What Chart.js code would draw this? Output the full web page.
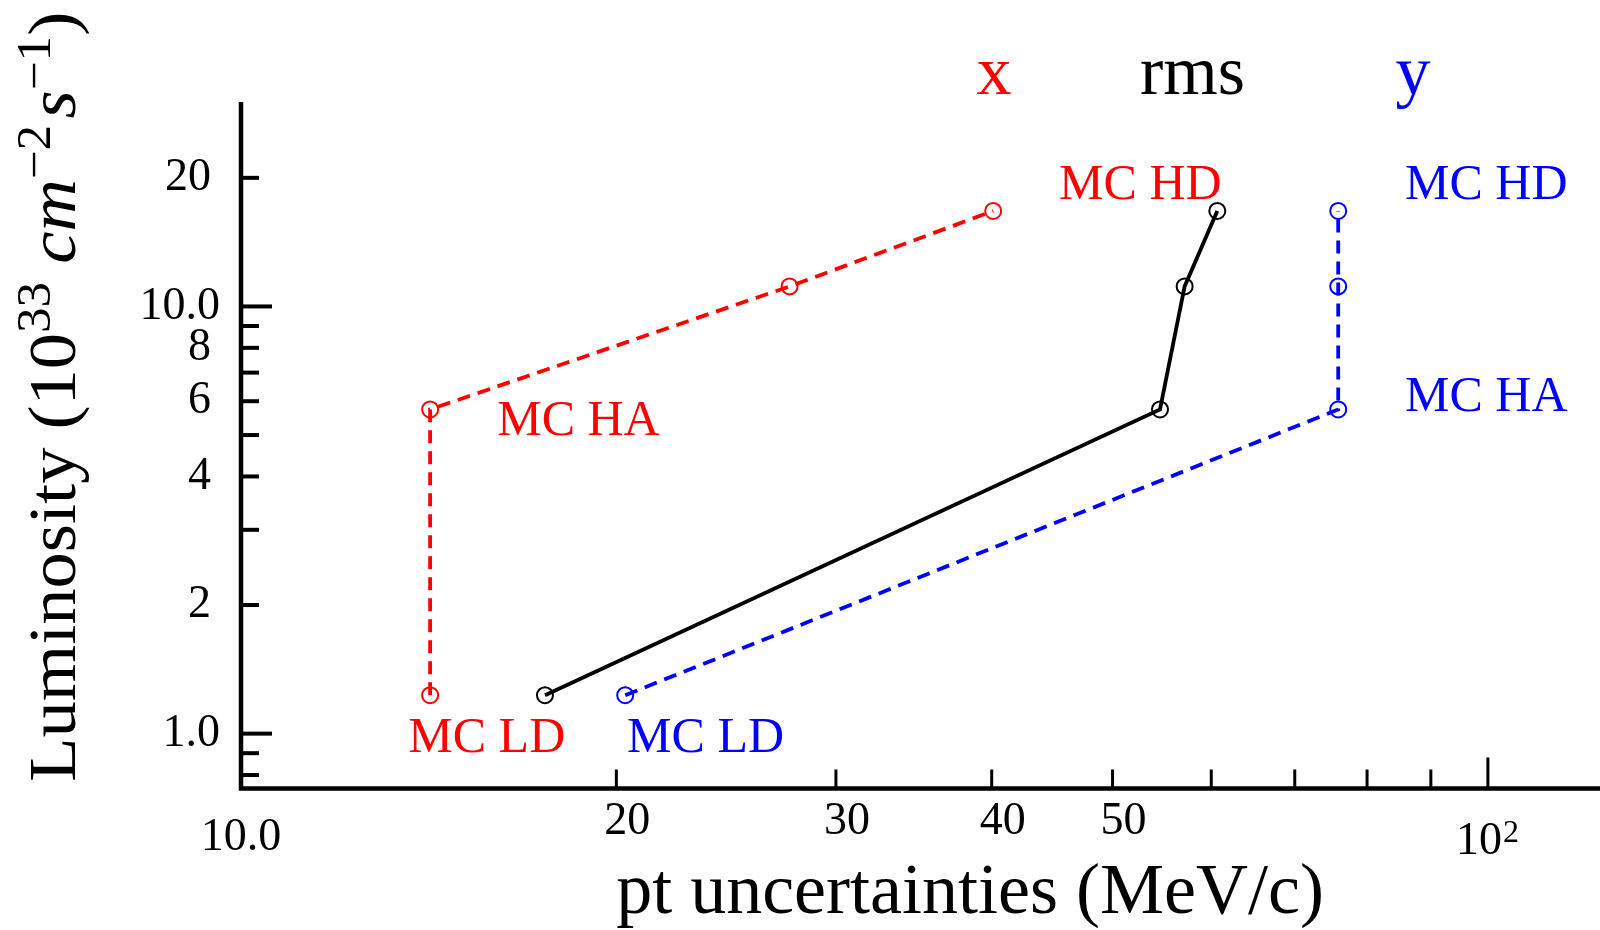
<!DOCTYPE html>
<html>
<head>
<meta charset="utf-8">
<script src="https://cdn.jsdelivr.net/npm/chart.js@4.4.1/dist/chart.umd.min.js"></script>
<style>
  html, body { margin: 0; padding: 0; background: #fff; }
  canvas { display: block; }
</style>
</head>
<body>
<canvas id="lumiChart" width="1600" height="930"></canvas>
<script>
// luminosity steps: LD, HA, intermediate, HD  (10^33 cm^-2 s^-1)
const lumi      = [1.23, 5.74, 11.14, 16.73];
// pt uncertainties (MeV/c) for each step
const sigmaX    = [14.18, 14.18, 27.54, 40.11];
const sigmaRms  = [17.53, 54.58, 57.12, 60.67];
const sigmaY    = [20.33, 75.85, 75.85, 75.85];

const xTicksMajor = [100];
const xTicksMinor = [20, 30, 40, 50, 60, 70, 80, 90];
const xMinorLabels = ['20', '30', '40', '50'];
const yTicksMajor = [1, 10];
const yTicksMinor = [0.8, 0.9, 2, 3, 4, 5, 6, 7, 8, 9, 20];
const yMajorLabels = ['1.0', '10.0'];
const yMinorLabels = { 2: '2', 4: '4', 6: '6', 8: '8', 20: '20' };

const RED = '#ff0000', BLUE = '#0000ff', BLACK = '#000000';

// annotation text, anchored (left, baseline) in data units
const notes = [
  ['MC LD', 13.62, 0.908, RED],
  ['MC HA', 16.05, 5.0,   RED],
  ['MC HD', 45.3,  17.8,  RED],
  ['MC LD', 20.4,  0.908, BLUE],
  ['MC HA', 85.8,  5.7,   BLUE],
  ['MC HD', 85.8,  17.8,  BLUE],
];

const FONT = '"Liberation Serif", "Times New Roman", serif';
const font = (size, style) => (style ? style + ' ' : '') + size + 'px ' + FONT;

function series(xs, colour, dash) {
  return {
    data: xs.map((v, i) => ({ x: v, y: lumi[i] })),
    showLine: true, tension: 0, clip: false,
    borderColor: colour, borderWidth: 3.8, borderDash: dash,
    pointRadius: 8, pointHoverRadius: 8, pointBorderWidth: 2,
    pointBorderColor: colour, pointBackgroundColor: 'rgba(0,0,0,0)',
  };
}

function drawYTitle(ctx) {
  const base = 68, sup = 48, raise = 25;
  const parts = [
    ['Luminosity (10', '', base, 0],
    ['33', '', sup, raise],
    [' ', '', base, 0],
    ['cm', 'italic', base, 0],
    ['\u22122', '', sup, raise],
    [' ', '', 24, 0],
    ['s', 'italic', base, 0],
    ['\u22121', '', sup, raise],
    [')', '', base, 0],
  ];
  let total = 0;
  const widths = parts.map(p => { ctx.font = font(p[2], p[1]); const w = ctx.measureText(p[0]).width; total += w; return w; });
  ctx.save();
  ctx.translate(75, 781.7);
  ctx.rotate(-Math.PI / 2);
  ctx.scale(770 / total, 1);
  ctx.textAlign = 'left'; ctx.textBaseline = 'alphabetic';
  let cx = 0;
  parts.forEach((p, i) => {
    ctx.font = font(p[2], p[1]);
    ctx.fillText(p[0], cx, -p[3]);
    cx += widths[i];
  });
  ctx.restore();
}

// spines, inward ticks, tick labels and all the text
const frame = {
  id: 'frame',
  afterDatasetsDraw(chart) {
    const { ctx, chartArea: a, scales: { x, y } } = chart;
    ctx.save();
    ctx.strokeStyle = BLACK; ctx.fillStyle = BLACK;
    ctx.setLineDash([]);

    ctx.lineWidth = 4.5; ctx.lineJoin = 'miter';
    ctx.beginPath();
    ctx.moveTo(a.left, a.top); ctx.lineTo(a.left, a.bottom); ctx.lineTo(a.right, a.bottom);
    ctx.stroke();

    // y ticks
    ctx.lineWidth = 4;
    yTicksMajor.concat(yTicksMinor).forEach(v => {
      const py = y.getPixelForValue(v);
      const len = yTicksMajor.includes(v) ? 31 : 18;
      ctx.beginPath(); ctx.moveTo(a.left, py); ctx.lineTo(a.left + len, py); ctx.stroke();
    });
    // x ticks
    ctx.lineWidth = 3;
    xTicksMajor.concat(xTicksMinor).forEach(v => {
      const px = x.getPixelForValue(v);
      const len = xTicksMajor.includes(v) ? 31 : 19;
      ctx.beginPath(); ctx.moveTo(px, a.bottom); ctx.lineTo(px, a.bottom - len); ctx.stroke();
    });

    // y tick labels
    ctx.font = font(46);
    ctx.textAlign = 'right'; ctx.textBaseline = 'middle';
    yTicksMajor.forEach((v, i) => ctx.fillText(yMajorLabels[i], a.left - 21, y.getPixelForValue(v)));
    Object.keys(yMinorLabels).forEach(k => ctx.fillText(yMinorLabels[k], a.left - 30, y.getPixelForValue(+k)));

    // x tick labels
    ctx.textAlign = 'center';
    xMinorLabels.forEach(s => ctx.fillText(s, x.getPixelForValue(+s) + 11, a.bottom + 33));
    ctx.fillText('10.0', x.getPixelForValue(10), a.bottom + 49);
    const p100 = x.getPixelForValue(100);
    ctx.textAlign = 'right';
    ctx.fillText('10', p100 + 14, a.bottom + 53);
    ctx.textAlign = 'left'; ctx.font = font(32);
    ctx.fillText('2', p100 + 15, a.bottom + 45);

    // axis titles
    ctx.textAlign = 'center'; ctx.textBaseline = 'alphabetic';
    ctx.font = font(72);
    ctx.fillText('pt uncertainties (MeV/c)', 970, 913);
    drawYTitle(ctx);

    // series captions
    ctx.font = font(70);
    [['x', 994, RED], ['rms', 1192.5, BLACK], ['y', 1413, BLUE]].forEach(([s, cx, c]) => {
      ctx.fillStyle = c; ctx.fillText(s, cx, 94);
    });

    // point annotations
    ctx.font = font(50); ctx.textAlign = 'left';
    notes.forEach(([s, vx, vy, c]) => {
      ctx.fillStyle = c;
      ctx.fillText(s, x.getPixelForValue(vx), y.getPixelForValue(vy));
    });
    ctx.restore();
  }
};

new Chart(document.getElementById('lumiChart'), {
  type: 'scatter',
  data: {
    datasets: [
      series(sigmaX, RED, [13, 8]),
      series(sigmaRms, BLACK, []),
      series(sigmaY, BLUE, [13, 8]),
    ],
  },
  options: {
    responsive: false, animation: false, devicePixelRatio: 1,
    layout: { autoPadding: false, padding: { left: 241, top: 102, right: 0, bottom: 141.5 } },
    plugins: { legend: { display: false }, tooltip: { enabled: false } },
    events: [],
    scales: {
      x: { type: 'logarithmic', bounds: 'data', min: 10, max: 123, display: false },
      y: { type: 'logarithmic', bounds: 'data', min: 0.744, max: 30.1, display: false },
    },
  },
  plugins: [frame],
});
</script>
</body>
</html>
